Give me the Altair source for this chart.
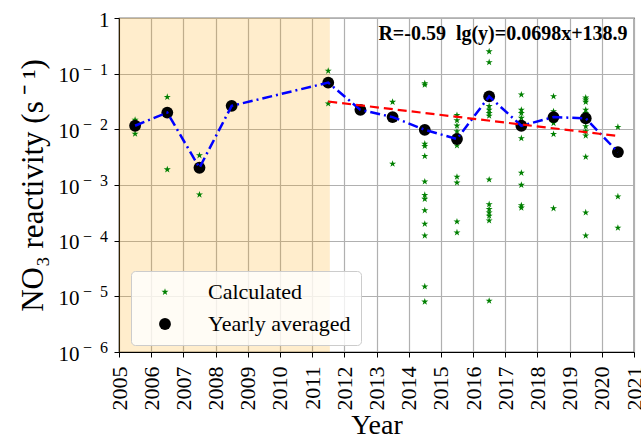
import altair as alt
import pandas as pd

# ---- data ----
calc_years = (
    [2005.5] * 3 + [2006.5] * 3 + [2007.5] * 3 + [2008.5] + [2011.5] * 3 + [2012.5]
    + [2013.5] * 3 + [2014.5] * 14 + [2015.5] * 10 + [2016.5] * 14 + [2017.5] * 10
    + [2018.5] * 6 + [2019.5] * 12 + [2020.5] * 4
)
calc_values = [
    0.0148, 0.0083, 0.0116,
    0.038, 0.0019, 0.020,
    0.0034, 0.00067, 0.00204,
    0.0264,
    0.112, 0.029, 0.069,
    0.0224,
    0.031, 0.0024, 0.0166,
    0.067, 0.063, 0.0098, 0.0055, 0.005, 0.0033, 0.00115, 0.00066, 0.00056, 0.00035, 0.0002, 0.000123, 1.5e-5, 8e-6,
    0.018, 0.0145, 0.0116, 0.0092, 0.0067, 0.0051, 0.0014, 0.0011, 0.00022, 0.00014,
    0.25, 0.16, 0.039, 0.026, 0.0224, 0.0195, 0.0175, 0.00125, 0.00045, 0.00037, 0.00032, 0.00028, 0.00023, 8.3e-6,
    0.042, 0.0224, 0.0195, 0.016, 0.0116, 0.0069, 0.00165, 0.001, 0.00043, 0.00039,
    0.039, 0.021, 0.0166, 0.0129, 0.0082, 0.00038,
    0.037, 0.034, 0.031, 0.0224, 0.0195, 0.0158, 0.0113, 0.0092, 0.0077, 0.0032, 0.00032, 0.000123,
    0.011, 0.0039, 0.00062, 0.00017,
]
avg_years = [2005.5, 2006.5, 2007.5, 2008.5, 2011.5, 2012.5, 2013.5, 2014.5, 2015.5,
             2016.5, 2017.5, 2018.5, 2019.5, 2020.5]
avg_values = [0.0116, 0.020, 0.00204, 0.0264, 0.069, 0.0224, 0.0166, 0.0098, 0.0067,
              0.039, 0.0116, 0.0166, 0.0158, 0.0039]
fit_years = [2011.5, 2020.5]
fit_values = [0.0316, 0.0076]
shade_start = [2005]
shade_end = [2011.55]
year_ticks = list(range(2005, 2022))
y_ticks = [1e-6, 1e-5, 1e-4, 1e-3, 1e-2, 1e-1, 1]
exp_ticks = [1e-6, 1e-5, 1e-4, 1e-3, 1e-2, 1e-1]
exp_labels = ["\u2212\u20026", "\u2212\u20025", "\u2212\u20024", "\u2212\u20023", "\u2212\u20022", "\u2212\u20021"]
annotation = "R=-0.59\u00a0\u00a0lg(y)=0.0698x+138.9"

FONT = "Liberation Serif"
STAR = ("M0,-1L0.2245,-0.309L0.951,-0.309L0.363,0.118L0.588,0.809L0,0.382"
        "L-0.588,0.809L-0.363,0.118L-0.951,-0.309L-0.2245,-0.309Z")

pts = pd.concat([
    pd.DataFrame({"year": calc_years, "value": calc_values, "type": "Calculated"}),
    pd.DataFrame({"year": avg_years, "value": avg_values, "type": "Yearly averaged"}),
], ignore_index=True)
pts["order"] = (pts["type"] == "Yearly averaged").astype(int)
avg = pd.DataFrame({"year": avg_years, "value": avg_values})
fit = pd.DataFrame({"year": fit_years, "value": fit_values})
shade = pd.DataFrame({"start": shade_start, "end": shade_end})
ann = pd.DataFrame({"year": [2020.8], "value": [0.52], "text": [annotation]})
exps = pd.DataFrame({"value": exp_ticks, "text": exp_labels})

xscale = alt.Scale(domain=[2005, 2021], nice=False, zero=False)
yscale = alt.Scale(type="log", domain=[1e-6, 1], nice=False)

xaxis = alt.Axis(values=year_ticks, format="d", labelAngle=270, title="Year",
                 titleFontSize=28, labelFontSize=22, titlePadding=1, labelPadding=9,
                 labelOverlap=False, labelBound=False, labelFlush=False)
yaxis = alt.Axis(values=y_ticks, title="NO\u2083 reactivity (s\u2009\u207b\u2009\u00b9)",
                 titleFontSize=31, labelFontSize=21, titlePadding=9,
                 labelPadding={"condition": {"test": "datum.value >= 0.5", "value": 5}, "value": 35},
                 labelOverlap=False, labelFlush=False, labelOffset=2,
                 labelExpr="datum.value >= 0.5 ? '1' : '10'")

band = alt.Chart(shade).mark_rect(color="orange", opacity=0.2).encode(
    x=alt.X("start:Q", scale=xscale, axis=xaxis),
    x2="end:Q",
)

points = alt.Chart(pts).mark_point(filled=True, opacity=1, strokeWidth=0).encode(
    x=alt.X("year:Q", scale=xscale, axis=xaxis),
    y=alt.Y("value:Q", scale=yscale, axis=yaxis),
    color=alt.Color("type:N", scale=alt.Scale(domain=["Calculated", "Yearly averaged"],
                                              range=["green", "black"]), legend=alt.Legend(title=None)),
    shape=alt.Shape("type:N", scale=alt.Scale(domain=["Calculated", "Yearly averaged"],
                                              range=[STAR, "circle"]), legend=alt.Legend(title=None)),
    size=alt.Size("type:N", scale=alt.Scale(domain=["Calculated", "Yearly averaged"],
                                            range=[55, 140]), legend=alt.Legend(title=None)),
    order="order:Q",
)

avg_line = alt.Chart(avg).mark_line(color="blue", strokeWidth=2.5, strokeDash=[10, 4, 2, 4]).encode(
    x=alt.X("year:Q", scale=xscale, axis=xaxis),
    y=alt.Y("value:Q", scale=yscale, axis=yaxis),
)

fit_line = alt.Chart(fit).mark_line(color="red", strokeWidth=2.2, strokeDash=[9, 5]).encode(
    x=alt.X("year:Q", scale=xscale, axis=xaxis),
    y=alt.Y("value:Q", scale=yscale, axis=yaxis),
)

text = alt.Chart(ann).mark_text(font=FONT, fontSize=20, fontWeight="bold", align="right",
                                baseline="middle", color="black").encode(
    x=alt.X("year:Q", scale=xscale, axis=xaxis),
    y=alt.Y("value:Q", scale=yscale, axis=yaxis),
    text="text:N",
)

# superscript exponents of the y tick labels
exp_text = alt.Chart(exps).mark_text(font=FONT, fontSize=16, align="right", baseline="middle",
                                     dy=-4, color="black").encode(
    x=alt.value(-11),
    y=alt.Y("value:Q", scale=yscale, axis=yaxis),
    text="text:N",
)

chart = alt.layer(band, points, avg_line, fit_line, text, exp_text).properties(
    width=515, height=334,
    autosize=alt.AutoSizeParams(type="none"),
    padding={"left": 119, "top": 18, "right": 7, "bottom": 89},
).configure_view(stroke="black", strokeWidth=1.2).configure_axis(
    labelFont=FONT, titleFont=FONT, labelColor="black", titleColor="black",
    titleFontWeight="normal", domainColor="black", tickColor="black", tickSize=5,
    gridColor="#b0b0b0", gridWidth=1.2, labelOverlap=False,
).configure_axisX(labelOverlap=False).configure_legend(
    orient="none", legendX=12, legendY=253, fillColor="rgba(255,255,255,0.8)",
    strokeColor="#cccccc", cornerRadius=4, padding=10, labelFont=FONT, labelFontSize=22,
    labelColor="black", symbolOffset=13, labelOffset=32, rowPadding=10, symbolStrokeWidth=0,
)

chart.save("out.html", embed_options={"renderer": "svg", "actions": False})
